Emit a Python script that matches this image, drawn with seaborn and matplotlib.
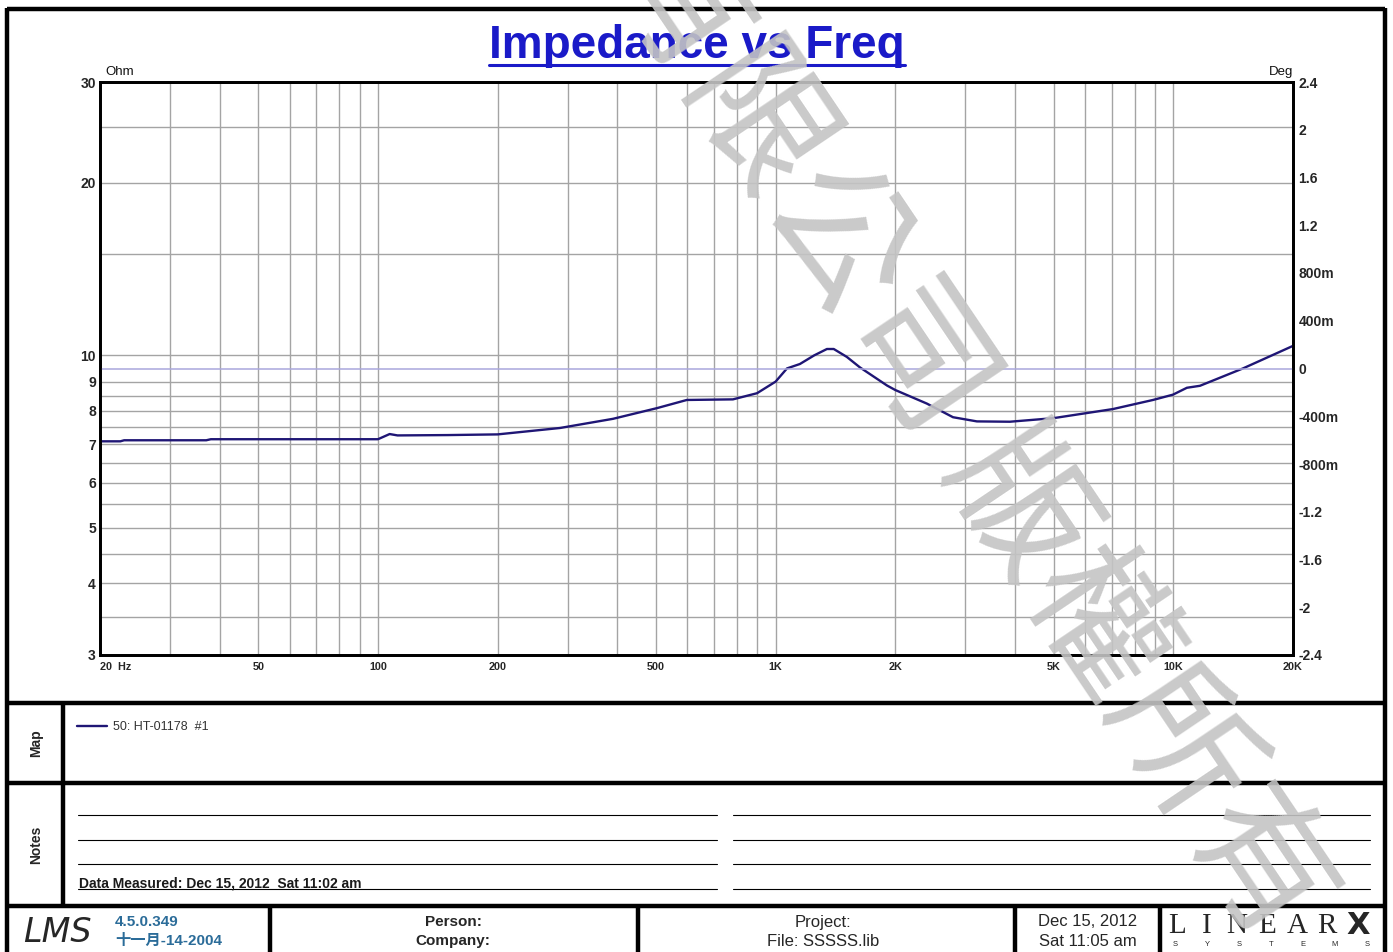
import matplotlib
matplotlib.use("Agg")
import seaborn as sns
from matplotlib import pyplot as plt
from matplotlib.ticker import NullLocator
import pandas as pd

sns.set_style("white")
plt.rcParams["font.family"] = ["Liberation Sans", "Noto Sans CJK SC", "DejaVu Sans"]

# impedance curve
freq_hz = [20, 22.5, 23, 37, 38, 100, 107, 112, 150, 200, 287, 390, 503, 598,
           781, 898, 1000, 1068, 1151, 1250, 1346, 1400, 1510, 1629, 1906,
           2000, 2400, 2793, 3208, 3882, 4990, 7050, 8890, 9980, 10820,
           11670, 14970, 20000]
impedance_ohm = [7.08, 7.08, 7.11, 7.11, 7.14, 7.14, 7.29, 7.25, 7.26, 7.28,
                 7.47, 7.75, 8.09, 8.36, 8.38, 8.59, 9.00, 9.49, 9.66, 10.0,
                 10.26, 10.26, 9.94, 9.53, 8.86, 8.70, 8.24, 7.80, 7.67, 7.66,
                 7.77, 8.06, 8.36, 8.54, 8.78, 8.85, 9.49, 10.39]
phase_freq = [20, 20000]
phase_deg = [0, 0]
legend_label = "50: HT-01178  #1"

ohm_ticks = [3, 4, 5, 6, 7, 8, 9, 10, 20, 30]
ohm_grid = [3.5, 4, 4.5, 5, 5.5, 6, 6.5, 7, 7.5, 8, 8.5, 9, 10, 15, 20, 25]
freq_ticks = [20, 50, 100, 200, 500, 1000, 2000, 5000, 10000, 20000]
freq_labels = ["20  Hz", "50", "100", "200", "500", "1K", "2K", "5K", "10K", "20K"]
deg_ticks = [2.4, 2.0, 1.6, 1.2, 0.8, 0.4, 0, -0.4, -0.8, -1.2, -1.6, -2.0, -2.4]
deg_labels = ["2.4", "2", "1.6", "1.2", "800m", "400m", "0", "-400m", "-800m",
              "-1.2", "-1.6", "-2", "-2.4"]
freq_grid = [m * 10 ** e for e in (1, 2, 3, 4) for m in range(1, 10)
             if 20 < m * 10 ** e < 20000]

W, H = 1393, 952
fig = plt.figure(figsize=(W / 100, H / 100), dpi=100)

# page layer in pixel coords
bg = fig.add_axes([0, 0, 1, 1])
bg.set_xlim(0, W)
bg.set_ylim(H, 0)
bg.axis("off")

ax = fig.add_axes([100 / W, 1 - 655 / H, 1193 / W, 573 / H])
df = pd.DataFrame({"freq": freq_hz, "ohm": impedance_ohm})
sns.lineplot(data=df, x="freq", y="ohm", ax=ax, color="#1f1675", lw=1.7,
             sort=False, label=legend_label, zorder=5)
handles, labels = ax.get_legend_handles_labels()
ax.get_legend().remove()

ax.set_xscale("log")
ax.set_yscale("log")
ax.set_xlim(20, 20000)
ax.set_ylim(3, 30)
ax.xaxis.set_minor_locator(NullLocator())
ax.yaxis.set_minor_locator(NullLocator())
ax.set_xticks(freq_ticks, freq_labels)
ax.set_yticks(ohm_ticks, [str(v) for v in ohm_ticks])
ax.tick_params(axis="x", length=0, pad=5, labelsize=7.8)
ax.tick_params(axis="y", length=0, pad=3, labelsize=10)
for t in ax.get_xticklabels() + ax.get_yticklabels():
    t.set_fontweight("bold")
ax.get_xticklabels()[0].set_ha("left")
ax.get_xticklabels()[0].set_x(19.2)
ax.set_xlabel("")
ax.set_ylabel("")
for v in ohm_grid:
    ax.axhline(v, color="#a4a4a4", lw=1.0, zorder=1)
for v in freq_grid:
    ax.axvline(v, color="#a4a4a4", lw=1.0, zorder=1)

ax2 = ax.twinx()
sns.lineplot(x=phase_freq, y=phase_deg, ax=ax2, color="#aaa7dd", lw=1.1)
ax2.set_ylim(-2.4, 2.4)
ax2.yaxis.set_minor_locator(NullLocator())
ax2.set_yticks(deg_ticks, deg_labels)
ax2.tick_params(axis="y", length=0, pad=4, labelsize=10)
for t in ax2.get_yticklabels():
    t.set_fontweight("bold")
ax2.set_ylabel("")
for a in (ax, ax2):
    for s in a.spines.values():
        s.set_color("black")
        s.set_linewidth(2.0)

bg.text(105, 75, "Ohm", fontsize=9.5, ha="left", va="baseline", color="#111111")
bg.text(1293, 75, "Deg", fontsize=9.5, ha="right", va="baseline", color="#111111")
bg.text(1250, 634, "LMS", fontsize=17, style="italic", family="DejaVu Sans",
        ha="center", va="center", color="black", fontweight="light")

# title
title = bg.text(697, 58, "Impedance vs Freq", fontsize=33, fontweight="bold",
                color="#1a1ac8", ha="center", va="baseline")

# page frame
k = dict(color="black", lw=3.2, solid_capstyle="butt")
bg.plot([7, 7], [8, H + 5], **k)
bg.plot([1385, 1385], [8, H + 5], **k)
bg.plot([7, 1385], [9, 9], **k)
bg.plot([7, 1385], [703, 703], **k)
bg.plot([7, 1385], [783, 783], **k)
bg.plot([7, 1385], [906, 906], **k)
bg.plot([63, 63], [703, 906], **k)
for xv in (270, 638, 1015, 1160):
    bg.plot([xv, xv], [906, H + 5], **k)

# map panel
bg.text(36, 743, "Map", rotation=90, fontsize=10, fontweight="bold",
        ha="center", va="center")
fig.legend(handles, labels, loc="center left",
           bbox_to_anchor=(77 / W, 1 - 727 / H), frameon=False, fontsize=9,
           handlelength=2.4, handletextpad=0.5, borderpad=0, borderaxespad=0,
           labelcolor="#333333")

# notes panel
bg.text(36, 845, "Notes", rotation=90, fontsize=10, fontweight="bold",
        ha="center", va="center")
for yv in (815, 840, 864, 889):
    bg.plot([78, 717], [yv, yv], color="black", lw=0.8)
    bg.plot([733, 1370], [yv, yv], color="black", lw=0.8)
bg.text(79, 887, "Data Measured: Dec 15, 2012  Sat 11:02 am", fontsize=10,
        fontweight="bold", color="#1a1a1a", ha="left", va="baseline")

# footer
bg.text(57, 933, "LMS", fontsize=24, style="italic", family="DejaVu Sans",
        fontweight="light", ha="center", va="center")
bg.text(115, 922, "4.5.0.349", fontsize=11, fontweight="bold", color="#2b6c99",
        ha="left", va="center")
bg.text(115, 941, "十一月-14-2004", fontsize=11, fontweight="bold", color="#2b6c99",
        ha="left", va="center")
bg.text(453, 922, "Person:", fontsize=11, fontweight="bold", ha="center", va="center")
bg.text(453, 941, "Company:", fontsize=11, fontweight="bold", ha="center", va="center")
narrow = ["Liberation Sans Narrow", "Liberation Sans"]
bg.text(823, 922, "Project:", fontsize=12, family=narrow, ha="center", va="center")
bg.text(823, 941, "File: SSSSS.lib", fontsize=12, family=narrow, ha="center", va="center")
bg.text(1088, 922, "Dec 15, 2012", fontsize=12, family=narrow, ha="center", va="center")
bg.text(1088, 941, "Sat 11:05 am", fontsize=12, family=narrow, ha="center", va="center")
for i, ch in enumerate("LINEAR"):
    bg.text(1177 + i * 30, 926, ch, fontsize=21, family="Liberation Serif",
            ha="center", va="center")
bg.text(1358, 926, "X", fontsize=22, fontweight="bold", family="DejaVu Sans",
        ha="center", va="center")
for i, ch in enumerate("SYSTEMS"):
    bg.text(1175 + i * 32, 945, ch, fontsize=5.5, ha="center", va="center")

# watermark
fig.text(968 / W, 1 - 432 / H, "有限公司 版權所有", rotation=-56, rotation_mode="anchor",
         ha="center", va="center", fontsize=104, color="#c4c4c4", alpha=0.9,
         family=["Noto Sans CJK TC", "DejaVu Sans"], fontweight="normal", zorder=10)

fig.canvas.draw()
r = fig.canvas.get_renderer()
bb = title.get_window_extent(r)
bg.plot([bb.x0, bb.x1], [H - bb.y0 - 3, H - bb.y0 - 3], color="#1a1ac8", lw=2.2)

fig.savefig("out.png", dpi=100)
